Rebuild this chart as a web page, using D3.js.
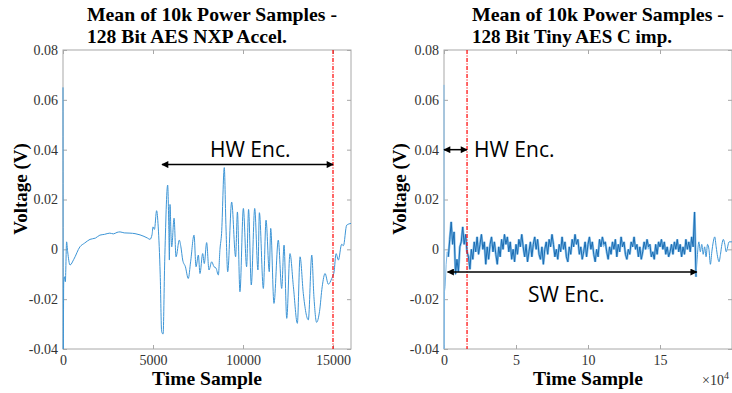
<!DOCTYPE html>
<html>
<head>
<meta charset="utf-8">
<script src="https://cdn.jsdelivr.net/npm/d3@7"></script>
<style>
  body { margin: 0; background: #fff; }
  svg { display: block; }
</style>
</head>
<body>
<div id="graf"></div>
<script>
// -- Datos --
yTicks = [-0.04, -0.02, 0, 0.02, 0.04, 0.06, 0.08]
leftXTicks = [0, 5000, 10000, 15000]
rightXTicks = [0, 5, 10, 15]          // x 10^4

titlesLeft = ['Mean of 10k Power Samples -', '128 Bit AES NXP Accel.']
titlesRight = ['Mean of 10k Power Samples -', '128 Bit Tiny AES C imp.']

// NXP accel: [muestra, voltios]
leftTrace = [[0,0.065],[15,-0.04],[40,-0.013],[90,-0.011],[130,-0.013],[200,0.003],[260,-0.001],[390,-0.0063],
  [600,-0.004],[940,0.001],[1200,0.0025],[1500,0.004],[1800,0.0045],[2050,0.0057],[2300,0.006],[2600,0.0065],
  [2800,0.0062],[3000,0.0068],[3170,0.007],[3400,0.0066],[3720,0.0065],[4000,0.0063],[4280,0.0058],[4500,0.0052],
  [4700,0.0045],[4830,0.004],[4950,0.006],[5000,0.009],[5080,0.008],[5200,0.0155],[5290,0.009],[5400,-0.01],
  [5480,-0.033],[5560,-0.034],[5650,-0.005],[5815,0.0258],[5880,0.008],[5910,-0.0043],[5945,0.018],[6000,0.006],
  [6040,0.001],[6170,0.0125],[6280,-0.003],[6460,0.0037],[6550,0.001],[6650,-0.0043],[6800,-0.007],[6960,-0.0117],
  [7090,-0.005],[7280,0.0057],[7390,-0.007],[7520,-0.0023],[7610,-0.0097],[7760,-0.0017],[7850,-0.0057],[7980,0.0027],
  [8110,-0.0083],[8260,-0.005],[8390,-0.007],[8500,-0.0075],[8630,-0.0103],[8720,0.0],[8810,0.0064],[8960,0.0328],
  [9050,0.01],[9150,-0.009],[9370,0.019],[9590,-0.003],[9690,0.015],[9830,-0.017],[10020,0.0164],[10200,-0.007],
  [10310,0.016],[10460,-0.0143],[10650,0.0164],[10830,-0.0083],[10910,0.0147],[11130,-0.0157],[11280,0.0117],
  [11460,-0.009],[11540,0.0084],[11720,-0.0217],[11960,0.0037],[12150,-0.0157],[12280,0.0017],[12430,-0.0277],
  [12610,-0.0017],[12800,-0.015],[13020,-0.0297],[13170,-0.003],[13350,-0.0177],[13630,-0.0283],[13820,-0.0023],
  [13940,-0.019],[14090,-0.0293],[14250,-0.025],[14400,-0.015],[14560,-0.0097],[14740,-0.014],[14930,-0.0117],
  [15060,-0.009],[15170,-0.0017],[15300,-0.0043],[15480,0.002],[15580,0.0015],[15760,0.0097],[16000,0.0104]]

// Tiny AES: inicio [x10^4, mV]
rightLead = [[0,66],[0.01,-40],[0.03,-17],[0.08,-15],[0.15,-6],[0.22,-1],[0.3,-3]]
// tramo denso, una muestra cada 0.1 x10^4 desde 0.3 (mV)
rightDenseStart = 0.3
rightDenseStep = 0.1
rightDense = [-3,4,11,2,7,-10,-4,
  -9,1,3,9,2,6,-1,-3,-8,0,
  -4,3,-1,5,-2,2,6,0,3,-6,
  1,-4,2,5,-1,3,-2,-6,1,-3,
  4,0,6,2,5,-1,3,-4,0,-5,
  2,-2,4,1,6,1,-3,2,-5,-1,
  3,-3,2,5,0,4,-2,-4,1,-6,
  0,3,-2,4,1,6,2,-3,0,-4,
  2,-1,5,0,3,-3,-5,1,-2,4,
  1,6,2,4,-2,1,-4,-1,3,-3,
  2,5,0,3,-2,-5,0,-3,4,1,
  5,2,3,-1,-4,1,-2,3,0,4,
  -3,2,-1,5,1,3,-2,-4,0,-2,
  3,1,5,0,2,-3,1,-4,-1,3,
  0,4,1,2,-3,-1,-4,2,-2,3,
  1,4,0,3,-2,1,-3,-1,2,-2,
  3,0,4,-1,2,-3,1,-2,4,0,
  3,-1,5,1,15,-11]
rightTail = [[17.5,-11],[17.6,-2],[17.7,3],[17.8,-1],[17.9,2],[18.0,-2],[18.1,1],[18.2,-3],[18.3,2],[18.4,0],
  [18.5,-6],[18.6,-1],[18.7,3],[18.8,5],[18.9,1],[19.0,-3],[19.1,-5],[19.2,-2],[19.3,2],[19.4,4],[19.5,2],
  [19.6,-1],[19.8,3],[20,3]]

// -- Canvas --
ancho_total = 732
alto_total = 393

svg = d3.select('#graf').append('svg')
        .attr('width', ancho_total)
        .attr('height', alto_total)

defs = svg.append('defs')
defs.append('marker')
    .attr('id', 'flecha')
    .attr('viewBox', '0 0 10 10')
    .attr('refX', 9).attr('refY', 5)
    .attr('markerUnits', 'userSpaceOnUse')
    .attr('markerWidth', 8).attr('markerHeight', 7)
    .attr('orient', 'auto-start-reverse')
  .append('path')
    .attr('d', 'M0,0 L10,5 L0,10 z')
    .attr('fill', '#000')

// -- Escaladores --
y = d3.scaleLinear().domain([-0.04, 0.08]).range([349, 50])
xL = d3.scaleLinear().domain([0, 16000]).range([63, 351])
xR = d3.scaleLinear().domain([0, 20]).range([444, 732])

serif = 'Liberation Serif, Times New Roman, serif'
gris = '#a8a8a8'
fmtY = d => d === 0 ? '0' : d.toFixed(2)

function ejes(x, xTicks) {
    g = svg.append('g')
    x0 = x.range()[0]; x1 = x.range()[1]
    g.append('rect')
     .attr('x', x0).attr('y', y.range()[1])
     .attr('width', x1 - x0).attr('height', y.range()[0] - y.range()[1])
     .attr('fill', 'none').attr('stroke', gris)

    ab = g.append('g').attr('transform', `translate(0,${y.range()[0]})`)
          .call(d3.axisBottom(x).tickValues(xTicks).tickFormat(d => String(d)).tickSizeInner(-4).tickSizeOuter(0).tickPadding(6))
    at = g.append('g').attr('transform', `translate(0,${y.range()[1]})`)
          .call(d3.axisTop(x).tickValues(xTicks).tickFormat('').tickSizeInner(-4).tickSizeOuter(0))
    al = g.append('g').attr('transform', `translate(${x0},0)`)
          .call(d3.axisLeft(y).tickValues(yTicks).tickFormat(fmtY).tickSizeInner(-4).tickSizeOuter(0).tickPadding(5))
    ar = g.append('g').attr('transform', `translate(${x1},0)`)
          .call(d3.axisRight(y).tickValues(yTicks).tickFormat('').tickSizeInner(-4).tickSizeOuter(0))

    ;[ab, at, al, ar].forEach(a => {
        a.select('.domain').remove()
        a.selectAll('line').attr('stroke', gris)
        a.selectAll('text').attr('fill', '#333')
         .style('font-family', serif).style('font-size', '14px')
    })
    return g
}

function titulo(lines, xStart, lens) {
    lines.forEach((t, i) => {
        svg.append('text')
           .attr('x', xStart).attr('y', 21 + i * 22)
           .attr('textLength', lens[i]).attr('lengthAdjust', 'spacingAndGlyphs')
           .style('font-family', serif).style('font-weight', 'bold').style('font-size', '19px')
           .attr('fill', '#000')
           .text(t)
    })
}

function etiquetas(x, ylabX) {
    cx = (x.range()[0] + x.range()[1]) / 2
    svg.append('text')
       .attr('x', cx).attr('y', 385)
       .attr('text-anchor', 'middle')
       .attr('textLength', 110).attr('lengthAdjust', 'spacingAndGlyphs')
       .style('font-family', serif).style('font-weight', 'bold').style('font-size', '19px')
       .text('Time Sample')
    svg.append('text')
       .attr('transform', `translate(${ylabX},189) rotate(-90)`)
       .attr('text-anchor', 'middle')
       .style('font-family', serif).style('font-weight', 'bold').style('font-size', '19px')
       .text('Voltage (V)')
}

function flecha(xa, xb, yv) {
    svg.append('line')
       .attr('x1', xa).attr('x2', xb).attr('y1', y(yv)).attr('y2', y(yv))
       .attr('stroke', '#000').attr('stroke-width', 1.5)
       .attr('marker-start', 'url(#flecha)').attr('marker-end', 'url(#flecha)')
}

function nota(txt, px, py) {
    svg.append('text')
       .attr('x', px).attr('y', py)
       .style('font-family', 'Open Sans, sans-serif').style('font-size', '21px')
       .attr('fill', '#000')
       .text(txt)
}

function rojo(px) {
    svg.append('line')
       .attr('x1', px).attr('x2', px).attr('y1', y.range()[1]).attr('y2', y.range()[0])
       .attr('stroke', '#ff0000').attr('stroke-width', 1.2)
       .attr('stroke-dasharray', '4,1.5,1,1.5')
}

// -- Panel izquierdo --
ejes(xL, leftXTicks)
svg.append('path')
   .datum(leftTrace)
   .attr('d', d3.line().x(d => xL(d[0])).y(d => y(d[1])).curve(d3.curveMonotoneX))
   .attr('fill', 'none').attr('stroke', '#3d95d6').attr('stroke-width', 1)
rojo(xL(15000))
flecha(xL(5500), xL(15000), 0.034)
nota('HW Enc.', 210, 157)
titulo(titlesLeft, 87, [250, 200])
etiquetas(xL, 27)

// -- Panel derecho --
ejes(xR, rightXTicks)
lineaR = d3.line().x(d => xR(d[0])).y(d => y(d[1] / 1000))
svg.append('path')
   .datum(rightLead)
   .attr('d', lineaR)
   .attr('fill', 'none').attr('stroke', '#7db8e6').attr('stroke-width', 1)
densePts = rightDense.map((v, i) => [rightDenseStart + i * rightDenseStep, v])
svg.append('path')
   .datum(rightTail)
   .attr('d', lineaR.curve(d3.curveMonotoneX))
   .attr('fill', 'none').attr('stroke', '#3d95d6').attr('stroke-width', 1)
// banda clara por debajo y nucleo oscuro encima
svg.append('path')
   .datum(densePts)
   .attr('d', lineaR.curve(d3.curveLinear))
   .attr('fill', 'none').attr('stroke', '#8cc3ec').attr('stroke-width', 2.4)
   .attr('stroke-linejoin', 'miter').attr('stroke-miterlimit', 3)
svg.append('path')
   .datum(densePts)
   .attr('d', lineaR.curve(d3.curveLinear))
   .attr('fill', 'none').attr('stroke', '#1a6cb2').attr('stroke-width', 1)
rojo(xR(1.6))
flecha(xR(0), xR(1.6), 0.04)
flecha(xR(0.25), xR(17.55), -0.0091)
nota('HW Enc.', 474, 157)
nota('SW Enc.', 528, 302)
titulo(titlesRight, 472, [252, 200])
etiquetas(xR, 406)

// x10^4
exp = svg.append('text')
         .attr('x', 702).attr('y', 385)
         .style('font-family', serif).style('font-size', '14px').attr('fill', '#333')
exp.append('tspan').text('\u00d710')
exp.append('tspan').attr('dy', -6).style('font-size', '10px').text('4')
</script>
</body>
</html>
